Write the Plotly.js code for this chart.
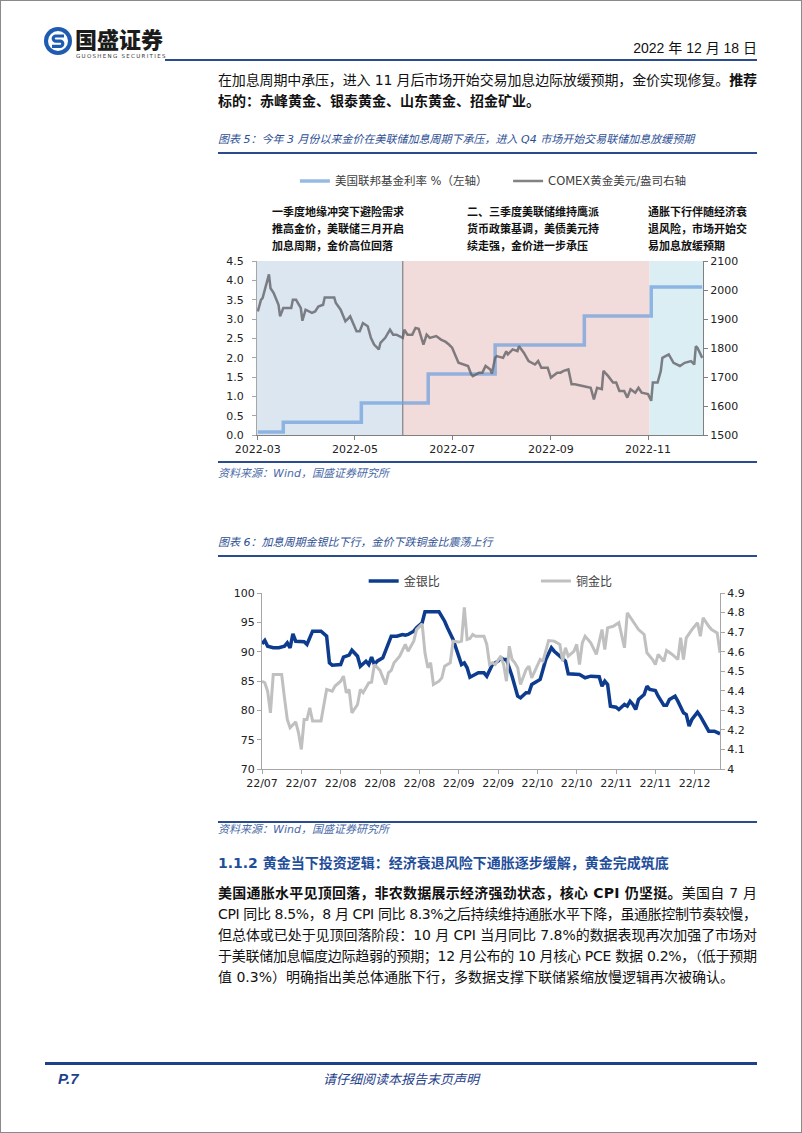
<!DOCTYPE html>
<html><head><meta charset="utf-8">
<script src="https://cdn.plot.ly/plotly-3.0.1.min.js"></script>
<style>
html,body{margin:0;padding:0;background:#fff;}
#page{position:relative;width:802px;height:1133px;overflow:hidden;background:#fff;}
.frame{position:absolute;left:0;top:0;width:802px;height:1133px;box-sizing:border-box;border:1.5px solid #8a8a8a;}
.a{position:absolute;white-space:nowrap;}
.ff{font-family:"DejaVu Sans","Noto Sans CJK SC",sans-serif;}
.hl{position:absolute;background:#2b4b8f;}
.body{font-size:14px;line-height:20px;height:20px;color:#111;}
.cap{font-size:11px;line-height:14px;color:#2e4f94;font-style:italic;}
.src{font-size:11px;line-height:14px;color:#4a6aa8;font-style:italic;}
b{font-weight:bold;}
</style></head>
<body><div id="page">
<div class="frame"></div>
<!-- header -->
<svg class="a" style="left:43px;top:26px" width="30" height="30" viewBox="0 0 30 30">
  <circle cx="15" cy="15" r="14" fill="#1f5cb0"/>
  <circle cx="15" cy="15" r="10" fill="#fff"/>
  <path d="M21 10 H12.8 a2.6 2.6 0 0 0 0 5.2 H17.2 a2.6 2.6 0 0 1 0 5.2 H9" stroke="#1f5cb0" stroke-width="3.2" fill="none"/>
</svg>
<div class="a" style="left:75px;top:27px;font-family:'Noto Sans CJK SC';font-weight:900;font-size:22px;line-height:23px;height:23px;color:#1b1b1b;">国盛证券</div>
<div class="a" style="left:76px;top:53px;font-family:'DejaVu Sans';font-size:5.5px;letter-spacing:1.3px;line-height:6px;height:6px;color:#333;">GUOSHENG SECURITIES</div>
<div class="a" style="right:45px;top:39px;font-family:'Liberation Sans','Noto Sans CJK SC';font-size:14px;line-height:18px;color:#111;">2022 年 12 月 18 日</div>
<div class="hl" style="left:165px;top:59px;width:592px;height:2px;"></div>

<div class="a ff body just" style="left:218px;top:70px;">在加息周期中承压，进入 11 月后市场开始交易加息边际放缓预期，金价实现修复。<b>推荐</b></div>
<div class="a ff body" style="left:218px;top:91px;"><b>标的：赤峰黄金、银泰黄金、山东黄金、招金矿业。</b></div>

<div class="a ff cap" style="left:218px;top:133px;">图表 5：今年 3 月份以来金价在美联储加息周期下承压，进入 Q4 市场开始交易联储加息放缓预期</div>
<div class="hl" style="left:218px;top:152px;width:539px;height:1.5px;"></div>

<div id="chart1" class="a" style="left:200px;top:165px;width:560px;height:300px;"></div>

<div class="hl" style="left:218px;top:461px;width:539px;height:1.5px;"></div>
<div class="a ff src" style="left:218px;top:467px;">资料来源：Wind，国盛证券研究所</div>

<div class="a ff cap" style="left:218px;top:536px;">图表 6：加息周期金银比下行，金价下跌铜金比震荡上行</div>
<div class="hl" style="left:218px;top:555px;width:539px;height:1.5px;"></div>

<div id="chart2" class="a" style="left:200px;top:565px;width:560px;height:235px;"></div>

<div class="hl" style="left:218px;top:821px;width:539px;height:1.5px;"></div>
<div class="a ff src" style="left:218px;top:823px;">资料来源：Wind，国盛证券研究所</div>

<div class="a ff" style="left:218px;top:853px;font-size:14px;line-height:20px;font-weight:bold;color:#1f4e9a;">1.1.2 黄金当下投资逻辑：经济衰退风险下通胀逐步缓解，黄金完成筑底</div>

<div class="a ff body just" style="left:218px;top:883px;"><b>美国通胀水平见顶回落，非农数据展示经济强劲状态，核心 CPI 仍坚挺。</b>美国自 7 月</div>
<div class="a ff body just" style="left:218px;top:904px;">CPI 同比 8.5%，8 月 CPI 同比 8.3%之后持续维持通胀水平下降，虽通胀控制节奏较慢，</div>
<div class="a ff body just" style="left:218px;top:925px;">但总体或已处于见顶回落阶段：10 月 CPI 当月同比 7.8%的数据表现再次加强了市场对</div>
<div class="a ff body just" style="left:218px;top:946px;">于美联储加息幅度边际趋弱的预期；12 月公布的 10 月核心 PCE 数据 0.2%，（低于预期</div>
<div class="a ff body" style="left:218px;top:967px;">值 0.3%）明确指出美总体通胀下行，多数据支撑下联储紧缩放慢逻辑再次被确认。</div>

<!-- footer -->
<div class="hl" style="left:45px;top:1062px;width:712px;height:2.5px;background:#1f3f8a;"></div>
<div class="a" style="left:58px;top:1070px;font-family:'Liberation Sans';font-weight:bold;font-style:italic;font-size:15px;line-height:18px;color:#1f3f8a;">P.7</div>
<div class="a" style="left:401px;top:1070px;transform:translateX(-50%);font-family:'Noto Sans CJK SC';font-style:italic;font-size:13px;line-height:18px;color:#1f3f8a;">请仔细阅读本报告末页声明</div>
</div>

<script>
// ---------- Chart 5 data ----------
const fedDates = ['2022-03-01','2022-03-17','2022-05-05','2022-06-16','2022-07-28','2022-09-22','2022-11-03','2022-12-05'];
const fedRate  = [0.08,0.33,0.83,1.58,2.33,3.08,3.83,3.83];

const goldDates = ['2022-03-01','2022-03-02','2022-03-03','2022-03-04','2022-03-08','2022-03-09','2022-03-10','2022-03-11','2022-03-14','2022-03-15','2022-03-17','2022-03-22','2022-03-23','2022-03-25','2022-03-28','2022-03-29','2022-03-31',
'2022-04-04','2022-04-06','2022-04-08','2022-04-11','2022-04-12','2022-04-18','2022-04-19','2022-04-22','2022-04-25','2022-04-27','2022-04-28',
'2022-05-02','2022-05-04','2022-05-06','2022-05-09','2022-05-11','2022-05-13','2022-05-16','2022-05-17','2022-05-20','2022-05-23','2022-05-25','2022-05-27','2022-05-31',
'2022-06-01','2022-06-03','2022-06-06','2022-06-08','2022-06-10','2022-06-13','2022-06-15','2022-06-17','2022-06-21','2022-06-24','2022-06-27','2022-06-29',
'2022-07-01','2022-07-05','2022-07-08','2022-07-11','2022-07-13','2022-07-14','2022-07-18','2022-07-20','2022-07-22','2022-07-25','2022-07-26','2022-07-28','2022-07-29',
'2022-08-02','2022-08-04','2022-08-05','2022-08-08','2022-08-11','2022-08-12','2022-08-15','2022-08-18','2022-08-22','2022-08-24','2022-08-26','2022-08-30',
'2022-09-01','2022-09-05','2022-09-07','2022-09-09','2022-09-12','2022-09-14','2022-09-16','2022-09-21','2022-09-26','2022-09-28','2022-09-30',
'2022-10-03','2022-10-04','2022-10-07','2022-10-10','2022-10-12','2022-10-14','2022-10-17','2022-10-19','2022-10-21','2022-10-24','2022-10-26','2022-10-28',
'2022-11-01','2022-11-03','2022-11-04','2022-11-07','2022-11-09','2022-11-10','2022-11-14','2022-11-17','2022-11-21','2022-11-24','2022-11-28','2022-11-30',
'2022-12-01','2022-12-02','2022-12-05'];
const goldPrice = [1926,1949,1966,1972,2054,2006,1995,1989,1949,1909,1938,1938,1966,1966,1938,1894,1932,
1921,1926,1943,1949,1974,1974,1955,1932,1892,1903,1909,
1858,1858,1886,1875,1835,1812,1795,1818,1835,1863,1846,1846,1835,
1863,1846,1846,1869,1866,1812,1846,1835,1841,1829,1821,1812,
1801,1749,1744,1738,1709,1703,1715,1715,1738,1726,1712,1766,1772,
1766,1789,1778,1795,1789,1806,1784,1755,1743,1755,1732,1732,
1698,1715,1715,1721,1726,1675,1675,1669,1663,1623,1663,
1658,1721,1703,1681,1681,1652,1652,1629,1658,1646,1663,1646,
1641,1618,1681,1681,1721,1766,1778,1749,1738,1749,1755,1743,
1806,1801,1766];

// period boundaries (Q1 / Q2-Q3 / Q4)
const periodBounds = ['2022-02-28 12:00','2022-05-31','2022-11-02','2022-12-05 12:00'];
const noteA = ['一季度地缘冲突下避险需求','推高金价，美联储三月开启','加息周期，金价高位回落'];
const noteB = ['二、三季度美联储维持鹰派','货币政策基调，美债美元持','续走强，金价进一步承压'];
const noteC = ['通胀下行伴随经济衰','退风险，市场开始交','易加息放缓预期'];

// ---------- Chart 6 data ----------
const gsDates = ['2022-07-05','2022-07-06','2022-07-07','2022-07-09','2022-07-11','2022-07-13','2022-07-14','2022-07-15','2022-07-16','2022-07-17','2022-07-20','2022-07-21','2022-07-23','2022-07-26','2022-07-28','2022-07-29','2022-07-30',
'2022-08-02','2022-08-03','2022-08-05','2022-08-06','2022-08-08','2022-08-09','2022-08-11','2022-08-12','2022-08-13','2022-08-14','2022-08-15','2022-08-17','2022-08-18','2022-08-20','2022-08-22','2022-08-24','2022-08-25','2022-08-26','2022-08-28','2022-08-29','2022-08-31',
'2022-09-01','2022-09-06','2022-09-08','2022-09-09','2022-09-11','2022-09-13','2022-09-14','2022-09-15','2022-09-16','2022-09-17','2022-09-20','2022-09-22','2022-09-23','2022-09-25','2022-09-27','2022-09-28','2022-09-29','2022-09-30',
'2022-10-02','2022-10-04','2022-10-05','2022-10-07','2022-10-08','2022-10-09','2022-10-11','2022-10-12','2022-10-13','2022-10-14','2022-10-16','2022-10-17','2022-10-19','2022-10-21','2022-10-22','2022-10-24','2022-10-26','2022-10-28','2022-10-30',
'2022-11-02','2022-11-03','2022-11-04','2022-11-05','2022-11-06','2022-11-08','2022-11-09','2022-11-11','2022-11-12','2022-11-13','2022-11-14','2022-11-15','2022-11-16','2022-11-18','2022-11-19','2022-11-20','2022-11-22','2022-11-23','2022-11-25','2022-11-26','2022-11-27','2022-11-29','2022-11-30',
'2022-12-02','2022-12-03','2022-12-04','2022-12-05','2022-12-07','2022-12-08','2022-12-11','2022-12-13','2022-12-15'];
const goldSilver = [91.34,91.9,90.93,90.66,90.66,90.93,91.51,90.66,93.05,91.78,91.68,91.22,93.49,93.49,92.64,88.1,87.7,
87.81,89.06,89.4,90.25,89.23,87.52,88.38,87.81,89.06,87.81,88.38,88.95,90.08,92.64,92.64,92.93,92.81,92.93,93.49,94.07,94.92,
96.8,96.8,95.19,94.07,92.07,89.23,87.81,88.1,87.25,85.65,86.4,86.4,85.82,87.81,88.38,88.95,88.67,88.67,
85.82,82.41,82.14,82.99,82.99,84.4,84.97,85.26,86.96,88.67,90.66,90.08,89.23,88.38,86.23,86.11,86.11,85.55,85.82,
85.72,84.11,84.97,84.4,80.71,80.54,80.14,81.0,80.71,81.56,81.0,80.14,81.85,82.7,84.11,83.55,83.38,82.41,80.88,80.88,81.85,82.41,81.56,
79.58,79.29,77.3,78.44,79.68,79.0,76.44,76.44,76.0];

const cgDates = ['2022-07-05','2022-07-06','2022-07-07','2022-07-08','2022-07-09','2022-07-12','2022-07-13','2022-07-14','2022-07-15','2022-07-17','2022-07-18','2022-07-19','2022-07-20','2022-07-21','2022-07-22','2022-07-23','2022-07-26','2022-07-28','2022-07-30','2022-07-31',
'2022-08-02','2022-08-03','2022-08-04','2022-08-05','2022-08-06','2022-08-08','2022-08-09','2022-08-10','2022-08-12','2022-08-13','2022-08-14','2022-08-15','2022-08-16','2022-08-18','2022-08-19','2022-08-20','2022-08-21','2022-08-23','2022-08-25','2022-08-26','2022-08-28','2022-08-29','2022-08-31',
'2022-09-01','2022-09-02','2022-09-03','2022-09-04','2022-09-06','2022-09-07','2022-09-08','2022-09-10','2022-09-11','2022-09-13','2022-09-14','2022-09-15','2022-09-16','2022-09-17','2022-09-18','2022-09-19','2022-09-21','2022-09-22','2022-09-23','2022-09-24','2022-09-25','2022-09-26','2022-09-28','2022-09-29','2022-09-30',
'2022-10-01','2022-10-02','2022-10-03','2022-10-04','2022-10-05','2022-10-07','2022-10-08','2022-10-09','2022-10-10','2022-10-12','2022-10-13','2022-10-14','2022-10-15','2022-10-17','2022-10-19','2022-10-20','2022-10-21','2022-10-22','2022-10-24','2022-10-25','2022-10-26','2022-10-27','2022-10-28','2022-10-30',
'2022-11-01','2022-11-03','2022-11-04','2022-11-05','2022-11-07','2022-11-09','2022-11-11','2022-11-12','2022-11-14','2022-11-16','2022-11-18','2022-11-19','2022-11-21','2022-11-22','2022-11-23','2022-11-25','2022-11-26','2022-11-28','2022-11-30',
'2022-12-01','2022-12-02','2022-12-03','2022-12-05','2022-12-07','2022-12-08','2022-12-09','2022-12-11','2022-12-12','2022-12-14','2022-12-15'];
const copperGold = [4.449,4.441,4.398,4.287,4.483,4.483,4.364,4.253,4.211,4.241,4.185,4.1,4.253,4.253,4.313,4.245,4.245,4.407,4.398,4.424,
4.449,4.475,4.39,4.407,4.287,4.33,4.407,4.39,4.441,4.444,4.534,4.518,4.504,4.432,4.492,4.504,4.543,4.577,4.637,4.602,4.654,4.713,4.742,
4.594,4.518,4.543,4.432,4.449,4.466,4.526,4.543,4.654,4.65,4.654,4.827,4.662,4.667,4.688,4.679,4.679,4.679,4.637,4.534,4.543,4.534,4.577,4.534,4.449,
4.628,4.56,4.543,4.518,4.432,4.509,4.526,4.466,4.5,4.56,4.551,4.611,4.657,4.654,4.637,4.551,4.62,4.577,4.602,4.637,4.534,4.645,4.679,4.645,
4.586,4.713,4.611,4.722,4.73,4.748,4.62,4.799,4.756,4.713,4.688,4.594,4.56,4.534,4.586,4.551,4.606,4.586,4.56,
4.671,4.56,4.671,4.713,4.748,4.679,4.773,4.73,4.713,4.696,4.594];

const FONT = 'DejaVu Sans, Noto Sans CJK SC, sans-serif';
const CN = 'Noto Sans CJK SC, sans-serif';

// ---------- Chart 5 ----------
(function(){
  const traces = [
    {x: fedDates, y: fedRate, type:'scatter', mode:'lines', name:'美国联邦基金利率 %（左轴）',
     line:{shape:'hv', color:'rgba(110,160,220,0.72)', width:3.5}, yaxis:'y', legend:'legend', hoverinfo:'skip'},
    {x: goldDates, y: goldPrice, type:'scatter', mode:'lines', name:'COMEX黄金美元/盎司右轴',
     line:{color:'rgba(95,95,100,0.78)', width:2.5}, yaxis:'y2', legend:'legend2', hoverinfo:'skip'}
  ];
  const fills = ['#dce6f1','#f2dcdb','#daeef3'];
  const shapes = [];
  for (let i=0;i<3;i++){
    shapes.push({type:'rect', xref:'x', yref:'paper', x0:periodBounds[i], x1:periodBounds[i+1], y0:0, y1:1,
      fillcolor:fills[i], line:{width:0}, layer:'below'});
  }
  shapes.push({type:'line', xref:'x', yref:'paper', x0:periodBounds[1], x1:periodBounds[1], y0:0, y1:1,
    line:{color:'#808080', width:1.2}, layer:'below'});
  const ann = [];
  const noteX = [0.029, 0.466, 0.872];
  const noteY = [1.287, 1.190, 1.092];
  [noteA, noteB, noteC].forEach((blk, bi) => blk.forEach((t, li) => {
    ann.push({xref:'paper', yref:'paper', x:noteX[bi], y:noteY[li], xanchor:'left', yanchor:'middle',
      text:'<b>'+t+'</b>', showarrow:false, font:{family:CN, size:11, color:'#111'}});
  }));
  const ax = {showgrid:false, zeroline:false, showline:true, ticks:'outside', ticklen:4};
  const layout = {
    width:560, height:300, margin:{l:57, r:57, t:96, b:30, autoexpand:false},
    paper_bgcolor:'rgba(0,0,0,0)', plot_bgcolor:'rgba(0,0,0,0)',
    font:{family:FONT, size:11, color:'#222'},
    xaxis:Object.assign({}, ax, {type:'date', range:[periodBounds[0], periodBounds[3]], tick0:'2022-03-01', dtick:'M2',
      tickformat:'%Y-%m', linecolor:'#7f7f7f', tickcolor:'#7f7f7f'}),
    yaxis:Object.assign({}, ax, {range:[0,4.5], dtick:0.5, tickformat:'.1f', linecolor:'#a6a6a6', tickcolor:'#a6a6a6', ticklabelstandoff:6}),
    yaxis2:Object.assign({}, ax, {overlaying:'y', side:'right', range:[1500,2100], dtick:100, linecolor:'#7f7f7f', tickcolor:'#7f7f7f'}),
    shapes:shapes, annotations:ann, showlegend:true,
    legend:{orientation:'h', x:0.085, xanchor:'left', y:1.46, yanchor:'middle', bgcolor:'rgba(0,0,0,0)', font:{family:FONT, size:11.5, color:'#404040'}},
    legend2:{orientation:'h', x:0.563, xanchor:'left', y:1.46, yanchor:'middle', bgcolor:'rgba(0,0,0,0)', font:{family:FONT, size:11.5, color:'#404040'}}
  };
  Plotly.newPlot('chart1', traces, layout, {staticPlot:true, displayModeBar:false});
})();

// ---------- Chart 6 ----------
(function(){
  const traces = [
    {x: gsDates, y: goldSilver, type:'scatter', mode:'lines', name:'金银比', line:{color:'#0d3b8e', width:3.5}, yaxis:'y', legend:'legend', hoverinfo:'skip'},
    {x: cgDates, y: copperGold, type:'scatter', mode:'lines', name:'铜金比', line:{color:'#c0c0c0', width:3}, yaxis:'y2', legend:'legend2', hoverinfo:'skip'}
  ];
  const ax = {showgrid:false, zeroline:false, showline:true, ticks:'outside', ticklen:4, linecolor:'#a6a6a6', tickcolor:'#a6a6a6'};
  const layout = {
    width:560, height:235, margin:{l:62, r:40, t:28, b:31, autoexpand:false},
    paper_bgcolor:'rgba(0,0,0,0)', plot_bgcolor:'rgba(0,0,0,0)',
    font:{family:FONT, size:11, color:'#222'},
    xaxis:Object.assign({}, ax, {type:'date', range:['2022-07-05','2022-12-15'], tick0:'2022-07-05', dtick:14*86400000, tickformat:'%y/%m'}),
    yaxis:Object.assign({}, ax, {range:[70,100], dtick:5}),
    yaxis2:Object.assign({}, ax, {overlaying:'y', side:'right', range:[4,4.9], dtick:0.1}),
    showlegend:true,
    legend:{orientation:'h', x:0.222, xanchor:'left', y:1.068, yanchor:'middle', bgcolor:'rgba(0,0,0,0)', font:{family:FONT, size:12, color:'#404040'}},
    legend2:{orientation:'h', x:0.598, xanchor:'left', y:1.068, yanchor:'middle', bgcolor:'rgba(0,0,0,0)', font:{family:FONT, size:12, color:'#404040'}}
  };
  Plotly.newPlot('chart2', traces, layout, {staticPlot:true, displayModeBar:false});
})();

// justify body lines to the text block width
function justifyLines(){
  document.querySelectorAll('.just').forEach(el => {
    el.style.letterSpacing = '0px';
    const w = el.getBoundingClientRect().width;
    const n = el.textContent.length;
    const ls = (539 - w) / (n - 1);
    el.style.letterSpacing = ls + 'px';
  });
}
justifyLines();
if (document.fonts && document.fonts.ready) document.fonts.ready.then(justifyLines);
</script>
</body></html>
